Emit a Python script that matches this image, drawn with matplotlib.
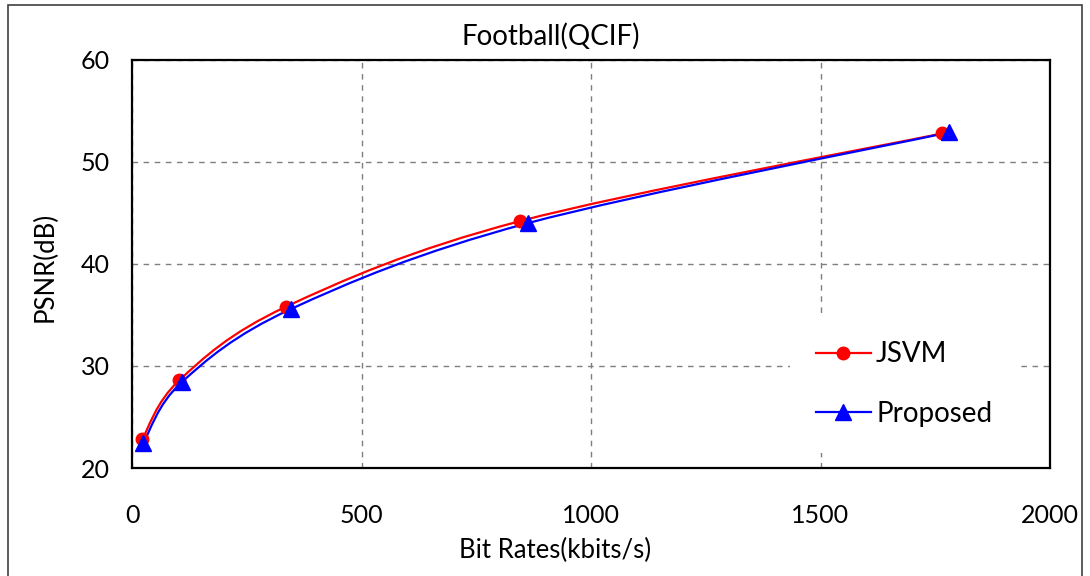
import numpy as np
import matplotlib
matplotlib.use("Agg")
import matplotlib.pyplot as plt
from matplotlib.path import Path
from matplotlib.patches import PathPatch, Rectangle
from matplotlib.lines import Line2D

plt.rcParams['font.family'] = ['Lato', 'DejaVu Sans']

# data
jsvm_rate = [22, 103, 335, 845, 1765]
jsvm_psnr = [22.8, 28.6, 35.8, 44.2, 52.8]
prop_rate = [25, 108, 347, 862, 1780]
prop_psnr = [22.5, 28.4, 35.6, 44.0, 52.9]
labels = ['JSVM', 'Proposed']
x_ticks = [0, 500, 1000, 1500, 2000]
y_ticks = [20, 30, 40, 50, 60]


def smooth_path(x, y):
    """Excel-like smoothed line: Catmull-Rom segments as cubic Beziers."""
    p = np.column_stack([x, y]).astype(float)
    n = len(p)
    verts = [p[0]]
    codes = [Path.MOVETO]
    for i in range(n - 1):
        p0 = p[i - 1] if i > 0 else p[i]
        p1 = p[i]
        p2 = p[i + 1]
        p3 = p[i + 2] if i + 2 < n else p[i + 1]
        c1 = p1 + (p2 - p0) / 6.0
        c2 = p2 - (p3 - p1) / 6.0
        verts += [c1, c2, p2]
        codes += [Path.CURVE4] * 3
    return Path(verts, codes)


fig = plt.figure(figsize=(10.9, 5.76), dpi=100)
W, H = 1090, 576
ax = fig.add_axes([132 / W, 1 - 468 / H, (1050 - 132) / W, (468 - 60) / H])

series = [
    (jsvm_rate, jsvm_psnr, 'red', 'o', 9),
    (prop_rate, prop_psnr, 'blue', '^', 11.5),
]
handles = []
for (xs, ys, col, mk, ms), lab in zip(series, labels):
    ax.add_patch(PathPatch(smooth_path(xs, ys), fill=False, edgecolor=col,
                           lw=1.6, zorder=3))
    ax.plot(xs, ys, linestyle='none', marker=mk, color=col, markersize=ms,
            zorder=4)
    handles.append(Line2D([], [], color=col, lw=1.6, marker=mk, markersize=ms))

ax.set_xlim(0, 2000)
ax.set_ylim(20, 60)
ax.set_xticks(x_ticks)
ax.set_yticks(y_ticks)
ax.tick_params(length=0, labelsize=18)
ax.tick_params(axis='y', pad=16)
ax.tick_params(axis='x', pad=26)
ax.grid(True, color='#7f7f7f', linestyle=(0, (4, 4)), lw=1.0)
for s in ax.spines.values():
    s.set_color('black')
    s.set_linewidth(1.6)

fig.text(551 / W, 1 - 36 / H, 'Football(QCIF)', ha='center', va='center', fontsize=20)
fig.text(555 / W, 1 - 550 / H, 'Bit Rates(kbits/s)', ha='center', va='center', fontsize=18.5)
fig.text(45 / W, 1 - 267 / H, 'PSNR(dB)', ha='center', va='center', rotation=90, fontsize=18.5)

leg = ax.legend(handles, labels, loc='upper left',
                bbox_to_anchor=(790 / W, 1 - 315 / H), bbox_transform=fig.transFigure,
                fontsize=20, frameon=True, fancybox=False, borderpad=0.95,
                borderaxespad=0, handlelength=1.95, handletextpad=0.2,
                labelspacing=1.2)
leg.get_frame().set_facecolor('white')
leg.get_frame().set_edgecolor('none')
leg.get_frame().set_alpha(1)
leg.set_zorder(5)

# outer chart border
fig.patches.append(Rectangle((8 / W, -20 / H), (1082 - 8) / W, (576 - 5 + 20) / H,
                             transform=fig.transFigure, fill=False,
                             edgecolor='#404040', lw=1.2))

fig.savefig('out.png', dpi=100)
